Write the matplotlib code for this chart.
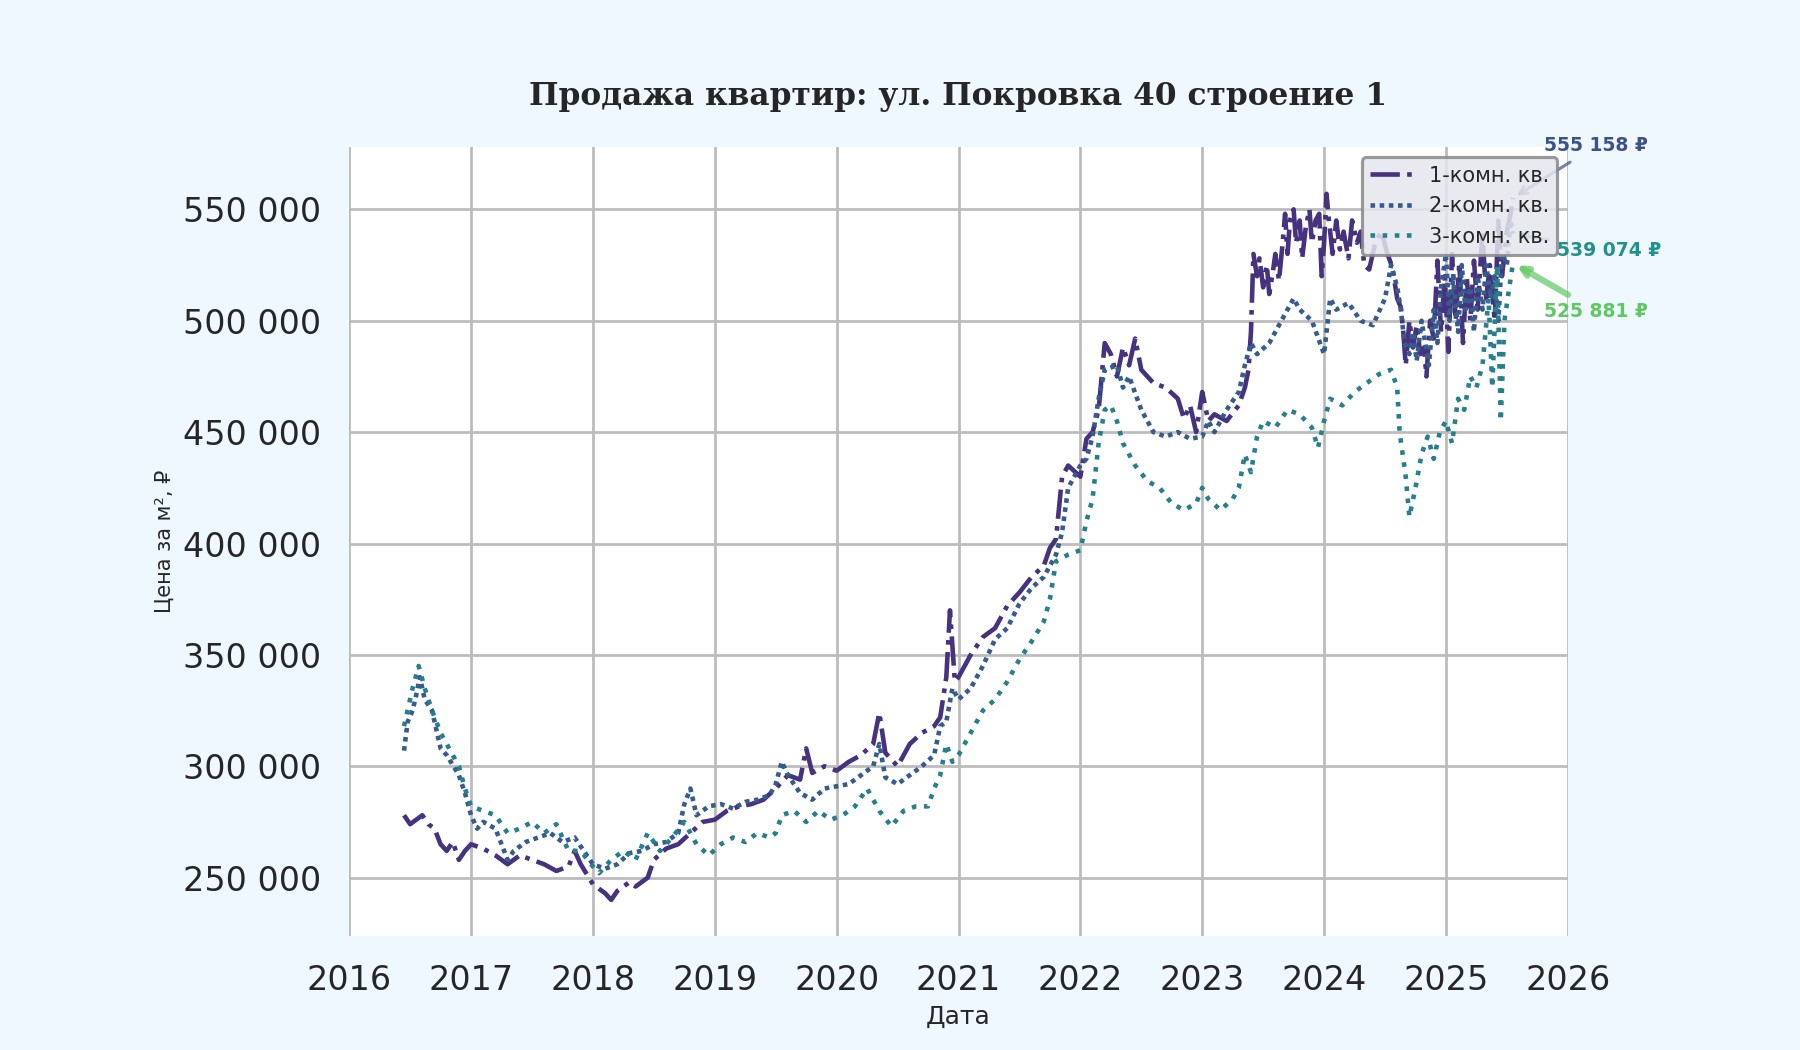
import numpy as np
import matplotlib.pyplot as plt
import matplotlib.ticker as mticker
import seaborn as sns


# price per m2 (x = year as decimal)
years_1 = [2016.45, 2016.5, 2016.55, 2016.6, 2016.65, 2016.7, 2016.75, 2016.8, 2016.85, 2016.9,
           2016.95, 2017.0, 2017.1, 2017.2, 2017.3, 2017.4, 2017.5, 2017.6, 2017.7, 2017.8,
           2017.85, 2017.9, 2018.0, 2018.1, 2018.15, 2018.2, 2018.3, 2018.35, 2018.45, 2018.5,
           2018.6, 2018.7, 2018.8, 2018.9, 2019.0, 2019.1, 2019.2, 2019.3, 2019.4, 2019.5,
           2019.6, 2019.7, 2019.75, 2019.8, 2019.9, 2020.0, 2020.1, 2020.2, 2020.3, 2020.35,
           2020.4, 2020.5, 2020.6, 2020.7, 2020.8, 2020.85, 2020.9, 2020.93, 2020.97, 2021.0,
           2021.1, 2021.2, 2021.3, 2021.4, 2021.5, 2021.6, 2021.7, 2021.75, 2021.8, 2021.85,
           2021.9, 2022.0, 2022.05, 2022.1, 2022.15, 2022.2, 2022.25, 2022.3, 2022.35, 2022.4,
           2022.45, 2022.5, 2022.6, 2022.7, 2022.8, 2022.85, 2022.9, 2022.95, 2023.0, 2023.05,
           2023.1, 2023.2, 2023.3, 2023.35, 2023.38, 2023.4, 2023.42, 2023.45, 2023.47, 2023.5,
           2023.53, 2023.55, 2023.58, 2023.6, 2023.63, 2023.66, 2023.68, 2023.7, 2023.72, 2023.75,
           2023.77, 2023.8, 2023.82, 2023.85, 2023.88, 2023.9, 2023.93, 2023.96, 2023.98, 2024.0,
           2024.02, 2024.04, 2024.07, 2024.1, 2024.13, 2024.16, 2024.2, 2024.23, 2024.27, 2024.3,
           2024.33, 2024.37, 2024.42, 2024.47, 2024.52, 2024.56, 2024.6, 2024.63, 2024.65, 2024.67,
           2024.7, 2024.73, 2024.76, 2024.79, 2024.82, 2024.84, 2024.87, 2024.9, 2024.93, 2024.96,
           2024.99, 2025.02, 2025.05, 2025.08, 2025.11, 2025.14, 2025.17, 2025.2, 2025.23, 2025.26,
           2025.3, 2025.33, 2025.36, 2025.4, 2025.43, 2025.46, 2025.5, 2025.53, 2025.55]
price_1 = [278000, 274000, 276000, 278000, 274000, 272000, 265000, 262000, 266000, 258000,
           262000, 265000, 263000, 260000, 256000, 260000, 258000, 256000, 253000, 255000,
           262000, 256000, 247000, 243000, 240000, 244000, 248000, 246000, 250000, 258000,
           263000, 265000, 270000, 275000, 276000, 280000, 282000, 283000, 285000, 290000,
           296000, 294000, 308000, 297000, 300000, 298000, 302000, 305000, 310000, 324000,
           306000, 300000, 310000, 315000, 318000, 322000, 340000, 370000, 338000, 340000,
           350000, 358000, 362000, 372000, 378000, 385000, 390000, 398000, 402000, 430000,
           435000, 430000, 447000, 450000, 460000, 490000, 485000, 475000, 488000, 480000,
           492000, 478000, 472000, 470000, 465000, 456000, 462000, 450000, 468000, 455000,
           458000, 455000, 462000, 470000, 478000, 495000, 530000, 520000, 528000, 515000,
           525000, 512000, 522000, 530000, 518000, 535000, 548000, 530000, 545000, 550000,
           535000, 545000, 528000, 542000, 550000, 535000, 545000, 548000, 520000, 535000,
           557000, 545000, 530000, 545000, 532000, 540000, 528000, 545000, 535000, 540000,
           525000, 523000, 535000, 540000, 530000, 524000, 510000, 506000, 495000, 480000,
           500000, 488000, 498000, 485000, 488000, 475000, 500000, 492000, 527000, 495000,
           520000, 486000, 530000, 500000, 526000, 490000, 520000, 500000, 527000, 505000,
           540000, 510000, 525000, 500000, 545000, 520000, 540000, 548000, 555158]

years_2 = [2016.45, 2016.48, 2016.52, 2016.55, 2016.58, 2016.62, 2016.68, 2016.75, 2016.8, 2016.9,
           2016.95, 2017.0, 2017.05, 2017.1, 2017.2, 2017.3, 2017.35, 2017.45, 2017.55, 2017.65,
           2017.75, 2017.85, 2018.0, 2018.1, 2018.2, 2018.3, 2018.4, 2018.5, 2018.6, 2018.7,
           2018.75, 2018.8, 2018.85, 2018.95, 2019.05, 2019.15, 2019.25, 2019.35, 2019.45, 2019.5,
           2019.55, 2019.6, 2019.7, 2019.8, 2019.9, 2020.0, 2020.1, 2020.2, 2020.3, 2020.35,
           2020.4, 2020.5, 2020.6, 2020.7, 2020.8, 2020.85, 2020.9, 2020.95, 2021.0, 2021.1,
           2021.2, 2021.3, 2021.4, 2021.5, 2021.6, 2021.7, 2021.8, 2021.85, 2021.9, 2022.0,
           2022.05, 2022.1, 2022.15, 2022.2, 2022.3, 2022.35, 2022.4, 2022.5, 2022.6, 2022.7,
           2022.8, 2022.9, 2023.0, 2023.05, 2023.1, 2023.2, 2023.3, 2023.35, 2023.4, 2023.45,
           2023.55, 2023.65, 2023.7, 2023.75, 2023.8, 2023.9, 2024.0, 2024.05, 2024.1, 2024.2,
           2024.3, 2024.4, 2024.5, 2024.55, 2024.6, 2024.63, 2024.66, 2024.7, 2024.73, 2024.76,
           2024.8, 2024.83, 2024.86, 2024.9, 2024.93, 2024.96, 2025.0, 2025.03, 2025.06, 2025.1,
           2025.13, 2025.16, 2025.2, 2025.23, 2025.26, 2025.3, 2025.33, 2025.37, 2025.4, 2025.43,
           2025.46, 2025.5, 2025.53, 2025.55]
price_2 = [307000, 320000, 325000, 332000, 340000, 330000, 325000, 308000, 305000, 296000,
           288000, 278000, 272000, 275000, 272000, 258000, 262000, 266000, 268000, 270000,
           266000, 268000, 256000, 254000, 256000, 261000, 262000, 265000, 266000, 270000,
           283000, 290000, 278000, 282000, 283000, 281000, 284000, 285000, 287000, 292000,
           302000, 296000, 288000, 285000, 290000, 291000, 292000, 296000, 300000, 310000,
           295000, 292000, 296000, 300000, 305000, 318000, 320000, 335000, 330000, 335000,
           345000, 357000, 362000, 373000, 380000, 385000, 395000, 405000, 425000, 435000,
           438000, 448000, 465000, 478000, 480000, 470000, 475000, 460000, 450000, 448000,
           450000, 447000, 448000, 455000, 450000, 460000, 468000, 480000, 490000, 485000,
           490000, 500000, 505000, 510000, 505000, 500000, 485000, 510000, 505000, 508000,
           500000, 498000, 510000, 525000, 515000, 505000, 490000, 485000, 495000, 482000,
           500000, 490000, 480000, 505000, 490000, 515000, 530000, 500000, 520000, 495000,
           525000, 505000, 515000, 495000, 520000, 505000, 525000, 510000, 520000, 500000,
           530000, 525000, 545000, 539074]

years_3 = [2016.45, 2016.52, 2016.57, 2016.62, 2016.68, 2016.75, 2016.8, 2016.9, 2016.95, 2017.0,
           2017.1, 2017.2, 2017.3, 2017.4, 2017.5, 2017.6, 2017.7, 2017.8, 2017.9, 2018.0,
           2018.05, 2018.15, 2018.25, 2018.35, 2018.45, 2018.55, 2018.65, 2018.75, 2018.85, 2018.95,
           2019.05, 2019.15, 2019.25, 2019.35, 2019.45, 2019.5, 2019.55, 2019.65, 2019.75, 2019.85,
           2019.95, 2020.05, 2020.15, 2020.25, 2020.3, 2020.35, 2020.45, 2020.55, 2020.65, 2020.75,
           2020.8, 2020.85, 2020.9, 2020.95, 2021.0, 2021.1, 2021.2, 2021.3, 2021.4, 2021.5,
           2021.6, 2021.7, 2021.75, 2021.8, 2021.9, 2022.0, 2022.05, 2022.1, 2022.15, 2022.2,
           2022.25, 2022.3, 2022.35, 2022.45, 2022.55, 2022.65, 2022.75, 2022.85, 2022.95, 2023.0,
           2023.05, 2023.15, 2023.25, 2023.3, 2023.35, 2023.4, 2023.45, 2023.5, 2023.6, 2023.7,
           2023.8, 2023.9, 2023.95, 2024.0, 2024.05, 2024.15, 2024.25, 2024.35, 2024.45, 2024.55,
           2024.6, 2024.62, 2024.67, 2024.7, 2024.75, 2024.8, 2024.85, 2024.9, 2024.95, 2025.0,
           2025.05, 2025.1, 2025.15, 2025.2, 2025.25, 2025.3, 2025.35, 2025.38, 2025.42, 2025.45,
           2025.48, 2025.52, 2025.55]
price_3 = [318000, 335000, 345000, 335000, 325000, 315000, 310000, 300000, 290000, 282000,
           280000, 278000, 270000, 272000, 275000, 270000, 274000, 262000, 262000, 255000,
           252000, 258000, 262000, 258000, 270000, 262000, 268000, 275000, 265000, 260000,
           265000, 268000, 266000, 270000, 268000, 270000, 278000, 280000, 275000, 280000,
           276000, 278000, 282000, 290000, 285000, 280000, 273000, 280000, 282000, 282000,
           290000, 296000, 310000, 302000, 305000, 315000, 325000, 330000, 338000, 348000,
           356000, 365000, 375000, 392000, 395000, 397000, 410000, 420000, 445000, 460000,
           462000, 455000, 445000, 435000, 428000, 425000, 418000, 415000, 418000, 425000,
           420000, 415000, 420000, 425000, 440000, 432000, 448000, 455000, 452000, 460000,
           458000, 452000, 443000, 455000, 465000, 462000, 468000, 472000, 476000, 478000,
           470000, 450000, 430000, 412000, 425000, 440000, 448000, 438000, 450000, 455000,
           445000, 465000, 460000, 475000, 470000, 480000, 510000, 470000, 525000, 455000,
           500000, 515000, 525881]

labels = ['1-комн. кв.', '2-комн. кв.', '3-комн. кв.']
last_labels = ['555 158 ₽', '539 074 ₽', '525 881 ₽']
year_ticks = list(range(2016, 2027))


sns.set_theme(style='whitegrid')
plt.rcParams['font.family'] = ['DejaVu Sans']

line_colors = sns.color_palette('viridis', 6)[:3]
note_colors = sns.color_palette('viridis', 3)

fig, ax = plt.subplots(figsize=(12, 7), dpi=150)
fig.patch.set_facecolor('#f0f8ff')
ax.set_facecolor('white')
fig.subplots_adjust(left=0.194, right=0.871, bottom=0.109, top=0.86)

ax.plot(years_1, price_1, color=line_colors[0], linestyle='-.', lw=2.2, label=labels[0])
ax.plot(years_2, price_2, color=line_colors[1], linestyle=(0, (1, 1)), lw=2.2, label=labels[1])
ax.plot(years_3, price_3, color=line_colors[2], linestyle=':', lw=2.2, label=labels[2])

ax.set_xlim(2016, 2026)
ax.set_ylim(224000, 578000)
ax.set_xticks(year_ticks)
ax.yaxis.set_major_formatter(mticker.FuncFormatter(lambda v, p: f'{v:,.0f}'.replace(',', ' ')))
ax.tick_params(labelsize=16, colors='#262626', length=0)
ax.grid(True, color='#bbbbbb', lw=1.3)

for s in ax.spines.values():
    s.set_visible(False)
ax.spines['left'].set_position(('outward', 10))
ax.spines['bottom'].set_position(('outward', 10))

ax.set_title('Продажа квартир: ул. Покровка 40 строение 1', family='DejaVu Serif',
             fontweight='bold', fontsize=15, color='#262626', pad=20)
ax.set_xlabel('Дата', fontsize=12, color='#262626')
ax.set_ylabel('Цена за м², ₽', fontsize=10, color='#262626')

# last values
ends = [(years_1[-1], price_1[-1]), (years_2[-1], price_2[-1]), (years_3[-1], price_3[-1])]
offsets = [(40, 25), (46, -8), (40, -23)]
widths = [1.5, 1.5, 3]
for i in range(3):
    ax.annotate(last_labels[i], xy=ends[i], xytext=offsets[i], textcoords='offset points',
                fontsize=9, fontweight='bold', color=note_colors[i], ha='center', va='center',
                arrowprops=dict(arrowstyle='->', color=note_colors[i], lw=widths[i], alpha=0.7))

leg = ax.legend(loc='upper right', fontsize=10, facecolor='#e6e6ee', edgecolor='#888888',
                framealpha=0.85, fancybox=True)
leg.get_frame().set_linewidth(1.5)
leg.set_zorder(10)

plt.savefig('out.png', dpi=150, facecolor=fig.get_facecolor())
